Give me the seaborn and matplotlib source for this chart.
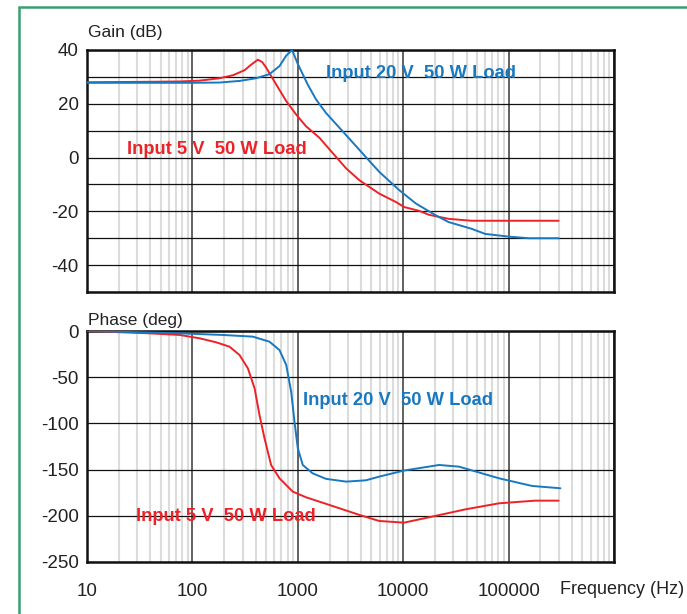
import numpy as np
import pandas as pd
import matplotlib
matplotlib.use('Agg')
import matplotlib.pyplot as plt
import matplotlib.ticker as mticker
from matplotlib.patches import Rectangle
import seaborn as sns

sns.set_style('white')
plt.rcParams['font.family'] = ['Liberation Sans', 'DejaVu Sans']
plt.rcParams['axes.unicode_minus'] = False

# Gain data (dB)
gain_freq_5v = [10, 44, 76, 117, 181, 242, 313, 360, 418, 460, 500, 623, 777, 964, 1200,
                1610, 2150, 2870, 3830, 5920, 8500, 10200, 14100, 17600, 27000, 44600,
                298000]
gain_5v = [28, 28.2, 28.3, 28.6, 29.5, 30.6, 32.5, 34.5, 36.4, 35.5, 33.5, 27.2, 21, 16,
           11.6, 7.3, 1.6, -4, -8.4, -13.4, -16.5, -18.4, -19.8, -21.3, -22.8, -23.5,
           -23.5]

gain_freq_20v = [10, 100, 181, 280, 403, 537, 670, 777, 883, 1000, 1240, 1490, 1850,
                 2660, 3830, 5920, 9160, 13200, 20400, 27000, 44600, 60000, 100000,
                 155000, 298000]
gain_20v = [27.8, 27.8, 27.9, 28.5, 29.5, 31, 34, 37.9, 40, 34.8, 27.2, 21.6, 16.6,
            9.8, 2.9, -5.3, -12.1, -17.1, -21.5, -24, -26.5, -28.4, -29.4, -30, -30]

# Phase data (deg)
phase_freq_5v = [10, 39, 76, 117, 169, 225, 280, 336, 389, 433, 483, 558, 670, 895,
                 1200, 2000, 3830, 5920, 10200, 18600, 39000, 81000, 178000, 298000]
phase_5v = [0, -2.5, -4.3, -7.9, -12.3, -17, -26, -40.4, -62, -90.9, -116, -145,
            -159.4, -173.8, -180, -188.3, -199, -205.6, -207.4, -201, -193, -186.5,
            -183.6, -183.6]

phase_freq_20v = [10, 76, 195, 374, 537, 670, 777, 865, 930, 1000, 1115, 1380, 1850,
                  2870, 4420, 5920, 10200, 21900, 33800, 81000, 167000, 310000]
phase_20v = [0, -2.5, -4.3, -6.1, -11.5, -20.6, -36.8, -65.7, -98, -127, -145, -154,
             -160, -163, -161.6, -157.6, -151, -145, -146.8, -159.4, -167.7, -170.2]

blue = '#1878c0'
red = '#ec2227'

df_gain = pd.concat([
    pd.DataFrame({'freq': gain_freq_5v, 'val': gain_5v, 'case': '5V'}),
    pd.DataFrame({'freq': gain_freq_20v, 'val': gain_20v, 'case': '20V'}),
])
df_phase = pd.concat([
    pd.DataFrame({'freq': phase_freq_5v, 'val': phase_5v, 'case': '5V'}),
    pd.DataFrame({'freq': phase_freq_20v, 'val': phase_20v, 'case': '20V'}),
])
pal = {'5V': red, '20V': blue}

W, H = 687, 614
fig = plt.figure(figsize=(W / 100, H / 100), dpi=100)
ax1 = fig.add_axes([87 / W, 1 - 292 / H, 527 / W, 242 / H])
ax2 = fig.add_axes([87 / W, 1 - 562 / H, 527 / W, 231 / H])

for ax, df in [(ax1, df_gain), (ax2, df_phase)]:
    sns.lineplot(data=df, x='freq', y='val', hue='case', palette=pal,
                 hue_order=['5V', '20V'], sort=False, estimator=None,
                 linewidth=1.4, legend=False, ax=ax, zorder=3)
    ax.set_xscale('log')
    ax.set_xlim(10, 1e6)
    ax.xaxis.set_major_locator(mticker.LogLocator(base=10, numticks=10))
    ax.xaxis.set_minor_locator(mticker.LogLocator(base=10, subs=np.arange(2, 10), numticks=50))
    ax.grid(True, which='minor', axis='x', color='#dcdcdc', lw=1.5)
    ax.grid(True, which='major', axis='x', color='#555555', lw=1.3)
    ax.grid(True, which='major', axis='y', color='#111111', lw=0.9)
    ax.set_axisbelow(True)
    ax.tick_params(which='both', length=0, labelsize=13.5, colors='#222222', pad=6)
    ax.set_xlabel('')
    ax.set_ylabel('')
    for s in ax.spines.values():
        s.set_color('#111111')
        s.set_linewidth(1.8)

ax1.set_ylim(-50, 40)
ax1.yaxis.set_major_locator(mticker.MultipleLocator(10))
ax1.yaxis.set_major_formatter(mticker.FuncFormatter(
    lambda v, p: f'{int(v)}' if int(v) % 20 == 0 and v > -50 else ''))
ax1.tick_params(axis='x', which='both', labelbottom=False)

ax2.set_ylim(-250, 0)
ax2.yaxis.set_major_locator(mticker.MultipleLocator(50))
ax2.yaxis.set_major_formatter(mticker.FuncFormatter(lambda v, p: f'{int(v)}'))
ax2.xaxis.set_major_formatter(mticker.FuncFormatter(
    lambda v, p: f'{int(round(v))}' if v < 5e5 else ''))
ax2.tick_params(axis='x', pad=15)

# series labels
lab = dict(fontsize=13.2, fontweight='bold', ha='left', va='center', zorder=4)
ax1.text(1860, 31.1, 'Input 20 V  50 W Load', color=blue, **lab)
ax1.text(24, 3, 'Input 5 V  50 W Load', color=red, **lab)
ax2.text(1130, -75, 'Input 20 V  50 W Load', color=blue, **lab)
ax2.text(29, -201, 'Input 5 V  50 W Load', color=red, **lab)

fig.text(88 / W, 1 - 33 / H, 'Gain (dB)', fontsize=12.5, ha='left', va='center', color='#222222')
fig.text(88 / W, 1 - 320 / H, 'Phase (deg)', fontsize=12.5, ha='left', va='center', color='#222222')
fig.text(684 / W, 1 - 589 / H, 'Frequency (Hz)', fontsize=13, ha='right', va='center', color='#222222')

# green frame around the figure
fig.patches.append(Rectangle((19 / W, -0.2), 1.0, 1 - 7.5 / H + 0.2, transform=fig.transFigure,
                             fill=False, edgecolor='#3a9e70', lw=1.8))

fig.savefig('out.png', dpi=100)
